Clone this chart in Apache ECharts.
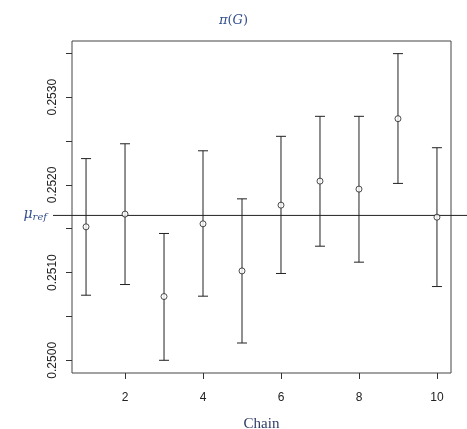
<!DOCTYPE html>
<html>
<head>
<meta charset="utf-8">
<script src="https://cdn.jsdelivr.net/npm/echarts@6/dist/echarts.min.js"></script>
<style>html,body{margin:0;padding:0;background:#fff}#c{width:467px;height:429px}</style>
</head>
<body>
<div id="c"></div>
<script>
const chains = [1, 2, 3, 4, 5, 6, 7, 8, 9, 10];
const estimates = [0.251522, 0.251667, 0.250727, 0.251556, 0.251019, 0.251769, 0.252043, 0.251952, 0.252755, 0.251632];
const lower = [0.250742, 0.250864, 0.250000, 0.250731, 0.250197, 0.250990, 0.251301, 0.251119, 0.252017, 0.250841];
const upper = [0.252300, 0.252469, 0.251446, 0.252389, 0.251841, 0.252554, 0.252782, 0.252782, 0.253497, 0.252424];
const muRef = 0.251652;
const yTickValues = [0.2500, 0.2505, 0.2510, 0.2515, 0.2520, 0.2525, 0.2530, 0.2535];
const yLabelValues = [0.2500, 0.2510, 0.2520, 0.2530];
const xLabelValues = [2, 4, 6, 8, 10];

const chart = echarts.init(document.getElementById('c'), null, {renderer: 'canvas'});
const ink = '#222';
const blue = '#34508f';

const option = {
  animation: false,
  backgroundColor: '#fff',
  title: {
    text: '{a|π}{b|(}{a|G}{b|)}',
    left: 'center',
    top: 9,
    textStyle: {
      fontWeight: 'normal',
      rich: {
        a: {fontFamily: 'DejaVu Serif', fontStyle: 'italic', fontWeight: 'normal', fontSize: 13, color: blue},
        b: {fontFamily: 'DejaVu Serif', fontWeight: 'normal', fontSize: 13, color: blue}
      }
    }
  },
  grid: {
    left: 72, right: 16, top: 41, bottom: 56,
    outerBoundsMode: 'none', containLabel: false,
    show: true, borderColor: '#444', borderWidth: 1, backgroundColor: 'transparent'
  },
  xAxis: {
    type: 'value', min: 0.64, max: 10.36,
    name: 'Chain', nameLocation: 'middle', nameGap: 44,
    nameTextStyle: {fontFamily: 'Liberation Serif', fontSize: 15, color: '#2e3b66'},
    splitLine: {show: false},
    axisLine: {show: false},
    axisTick: {show: true, length: 6, lineStyle: {color: '#333'}, customValues: xLabelValues},
    axisLabel: {customValues: xLabelValues, margin: 19, fontFamily: 'Liberation Sans', fontSize: 12, color: '#222'}
  },
  yAxis: {
    type: 'value', min: 0.249855, max: 0.253641,
    splitLine: {show: false},
    axisLine: {show: false},
    axisTick: {show: true, length: 6, lineStyle: {color: '#333'}, customValues: yTickValues},
    axisLabel: {
      customValues: yLabelValues, rotate: 90, margin: 13,
      fontFamily: 'Liberation Sans', fontSize: 12, color: '#222',
      formatter: v => v.toFixed(4)
    }
  },
  series: [
    {
      type: 'custom',
      clip: false,
      data: [[muRef]],
      z: 1,
      renderItem: function (params, api) {
        const cs = params.coordSys;
        const y = api.coord([1, api.value(0)])[1];
        const x0 = cs.x - 19;
        return {
          type: 'group',
          children: [
            {type: 'line', shape: {x1: x0, y1: y, x2: api.getWidth(), y2: y}, style: {stroke: ink, lineWidth: 1}},
            {type: 'text', x: x0 - 6, y: y - 1, style: {
              text: '{m|μ}{s|ref}', align: 'right', verticalAlign: 'middle',
              rich: {
                m: {fontFamily: 'DejaVu Serif', fontStyle: 'italic', fontSize: 14, fill: blue},
                s: {fontFamily: 'DejaVu Serif', fontStyle: 'italic', fontSize: 10, fill: blue, padding: [6, 0, 0, 0]}
              }
            }}
          ]
        };
      }
    },
    {
      type: 'custom',
      data: chains.map((c, i) => [c, lower[i], upper[i]]),
      z: 2,
      renderItem: function (params, api) {
        const x = api.value(0);
        const lo = api.coord([x, api.value(1)]);
        const hi = api.coord([x, api.value(2)]);
        const cap = 5;
        const st = {stroke: ink, lineWidth: 1};
        return {
          type: 'group',
          children: [
            {type: 'line', shape: {x1: lo[0], y1: lo[1], x2: hi[0], y2: hi[1]}, style: st},
            {type: 'line', shape: {x1: lo[0] - cap, y1: lo[1], x2: lo[0] + cap, y2: lo[1]}, style: st},
            {type: 'line', shape: {x1: hi[0] - cap, y1: hi[1], x2: hi[0] + cap, y2: hi[1]}, style: st}
          ]
        };
      }
    },
    {
      type: 'scatter',
      z: 3,
      symbol: 'circle',
      symbolSize: 6,
      itemStyle: {color: '#fff', borderColor: ink, borderWidth: 1},
      data: chains.map((c, i) => [c, estimates[i]])
    }
  ]
};
chart.setOption(option);
</script>
</body>
</html>
